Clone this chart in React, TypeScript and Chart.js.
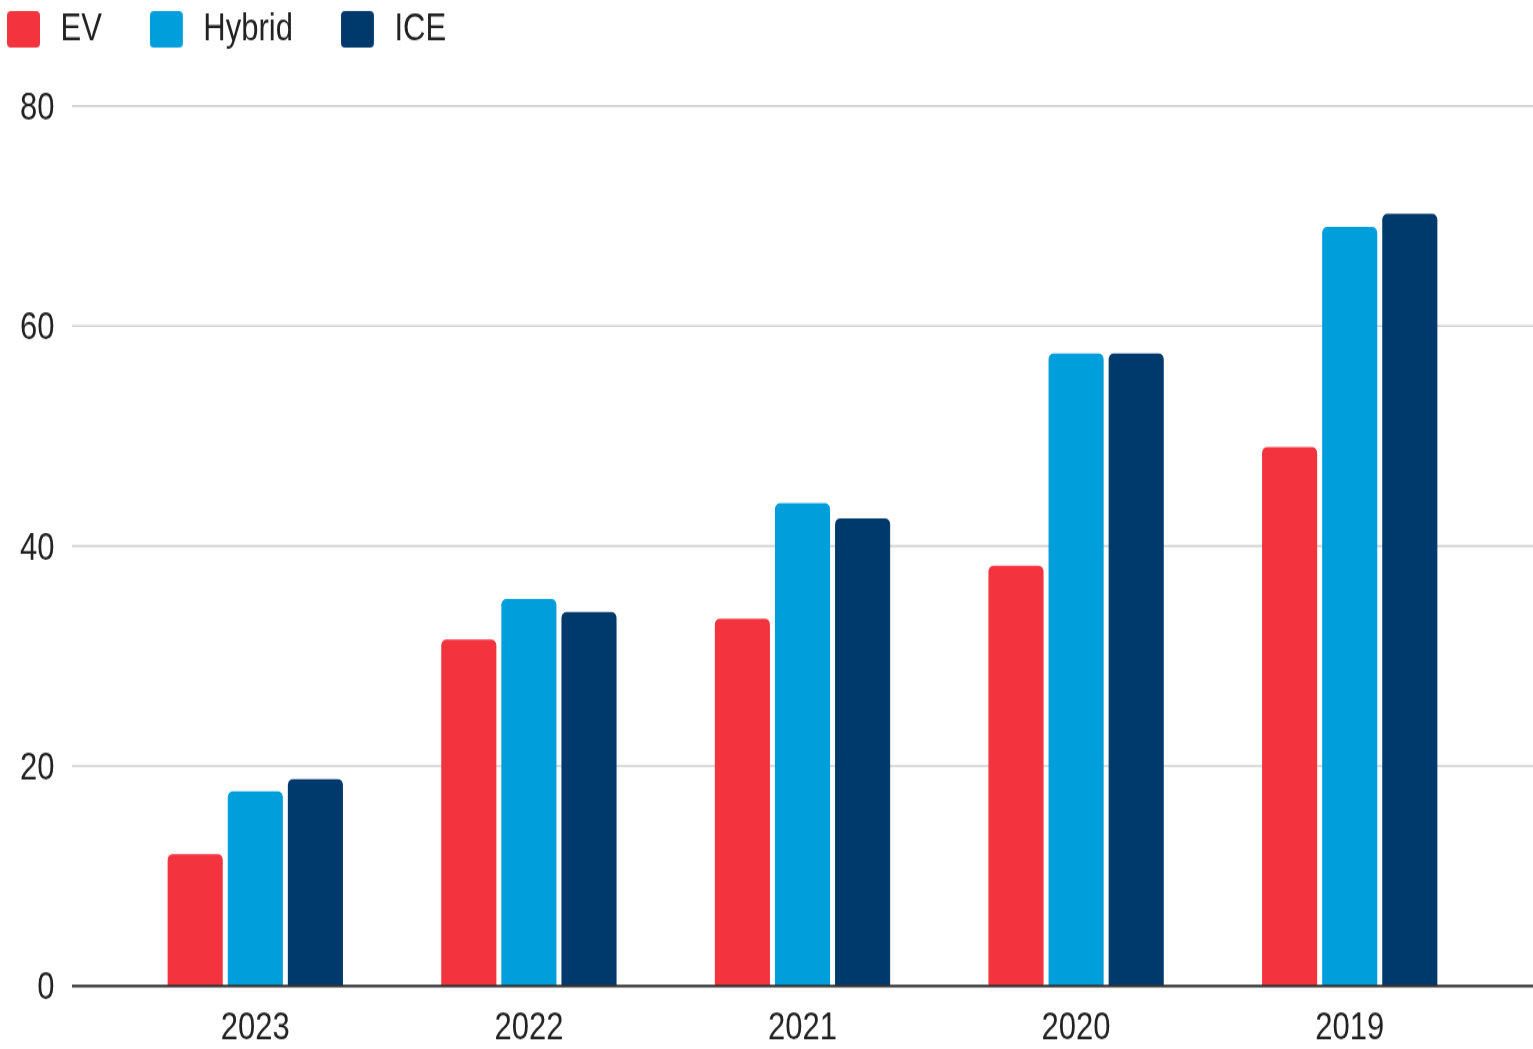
import { useEffect, useRef } from 'react';
import { Chart, registerables } from 'chart.js';

Chart.register(...registerables);

// ---- data ----
const categories = ['2023', '2022', '2021', '2020', '2019'];
const seriesNames = ['EV', 'Hybrid', 'ICE'];
const evValues = [12.0, 31.5, 33.4, 38.2, 49.0];
const hybridValues = [17.7, 35.2, 43.9, 57.5, 69.0];
const iceValues = [18.8, 34.0, 42.5, 57.5, 70.2];
const yTickValues = [0, 20, 40, 60, 80];

// ---- style ----
const COLORS = ['#F3343F', '#009FDB', '#00396B'];
const W = 1533;
const H = 1049;
const K = 1.22; // vertical stretch of the picture
const HI = Math.round(H / K); // internal canvas height
const KY = H / HI;
const CHART_LEFT = 118.5;
const CHART_RIGHT_PAD = 46.5;
const CHART_TOP = 106 / KY;
const CHART_BOTTOM = 986 / KY;
const GRID_LEFT = 72;
const LEGEND_PAD = 48;
const LEGEND_SLOT = 38; // width reserved for each legend swatch
const SWATCH_W = 33;
const SWATCH_H = 30;
const LAYOUT_LEFT = 7 - LEGEND_PAD;
const LAYOUT_TOP = 11 / KY - 0.5 - LEGEND_PAD;
const FONT = '"Liberation Sans", Arial, sans-serif';
const FSIZE = 31;

function makeSwatch(color: string): HTMLCanvasElement {
  const c = document.createElement('canvas');
  c.width = LEGEND_SLOT;
  c.height = SWATCH_H;
  const g = c.getContext('2d');
  if (g) {
    g.fillStyle = color;
    g.beginPath();
    if ((g as any).roundRect) {
      (g as any).roundRect(0, 0, SWATCH_W, SWATCH_H, 4);
    } else {
      g.rect(0, 0, SWATCH_W, SWATCH_H);
    }
    g.fill();
  }
  return c;
}

export default function App() {
  const ref = useRef<HTMLCanvasElement>(null);

  useEffect(() => {
    document.body.style.margin = '0';
    const canvas = ref.current;
    if (!canvas) return;

    const swatches = COLORS.map(makeSwatch);

    const extendedGrid = {
      id: 'extendedGrid',
      beforeDatasetsDraw(chart: any) {
        const { ctx, scales } = chart;
        const y = scales.y;
        ctx.save();
        ctx.strokeStyle = '#d0d0d0';
        ctx.lineWidth = 2 / KY;
        y.ticks.forEach((t: any) => {
          if (t.value === 0) return;
          const py = y.getPixelForValue(t.value);
          ctx.beginPath();
          ctx.moveTo(GRID_LEFT, py);
          ctx.lineTo(chart.width, py);
          ctx.stroke();
        });
        ctx.restore();
      },
      afterDatasetsDraw(chart: any) {
        const { ctx, scales } = chart;
        const py = scales.y.getPixelForValue(0);
        ctx.save();
        ctx.strokeStyle = '#333333';
        ctx.lineWidth = 2.5 / KY;
        ctx.beginPath();
        ctx.moveTo(GRID_LEFT, py);
        ctx.lineTo(chart.width, py);
        ctx.stroke();
        ctx.restore();
      },
    };

    const legendSpacer = {
      id: 'legendSpacer',
      beforeLayout(chart: any) {
        const lg = chart.legend;
        if (lg && !lg.__patched) {
          const orig = lg.fit.bind(lg);
          lg.fit = function () {
            orig();
            this.height = CHART_TOP - LAYOUT_TOP;
          };
          lg.__patched = true;
        }
      },
    };

    const valueSets = [evValues, hybridValues, iceValues];
    const defaultLabels = (Chart.defaults.plugins.legend.labels as any).generateLabels;

    const chart = new Chart(canvas, {
      type: 'bar',
      data: {
        labels: categories,
        datasets: seriesNames.map((name, i) => ({
          label: name,
          data: valueSets[i],
          backgroundColor: COLORS[i],
          borderWidth: 0,
          borderRadius: 5,
          categoryPercentage: 0.659,
          barPercentage: 0.917,
        })),
      },
      options: {
        responsive: false,
        animation: false,
        devicePixelRatio: 1,
        layout: {
          padding: { left: LAYOUT_LEFT, top: LAYOUT_TOP, right: CHART_RIGHT_PAD, bottom: 0 },
        },
        plugins: {
          legend: {
            display: true,
            position: 'top',
            align: 'start',
            labels: {
              usePointStyle: true,
              pointStyleWidth: LEGEND_SLOT,
              boxHeight: SWATCH_H,
              padding: LEGEND_PAD,
              color: '#222222',
              font: { family: FONT, size: FSIZE },
              generateLabels(chart: any) {
                const items = defaultLabels(chart);
                return items.map((it: any, i: number) => ({
                  ...it,
                  pointStyle: swatches[it.datasetIndex ?? i],
                  lineWidth: 0,
                }));
              },
            },
          },
          tooltip: { enabled: false },
        },
        scales: {
          x: {
            grid: { display: false, drawTicks: false },
            border: { display: false },
            ticks: {
              color: '#222222',
              font: { family: FONT, size: FSIZE },
              padding: 17,
              maxRotation: 0,
            },
            afterFit(scale: any) {
              scale.height = scale.chart.height - CHART_BOTTOM;
              scale.paddingLeft = 0;
              scale.paddingRight = 0;
            },
          },
          y: {
            min: 0,
            max: 80,
            afterBuildTicks(scale: any) {
              scale.ticks = yTickValues.map((v) => ({ value: v }));
            },
            grid: { display: false, drawTicks: false },
            border: { display: false },
            ticks: {
              color: '#222222',
              font: { family: FONT, size: FSIZE },
              padding: 64,
              labelOffset: 2.5,
            },
            afterFit(scale: any) {
              scale.width = CHART_LEFT - LAYOUT_LEFT;
              scale.paddingTop = 0;
              scale.paddingBottom = 0;
            },
          },
        },
      },
      plugins: [extendedGrid, legendSpacer],
    });

    return () => {
      chart.destroy();
    };
  }, []);

  return (
    <div style={{ width: W, height: H, background: '#ffffff', overflow: 'hidden' }}>
      <canvas
        ref={ref}
        width={W}
        height={HI}
        style={{ display: 'block', width: W + 'px', height: H + 'px' }}
      />
    </div>
  );
}
